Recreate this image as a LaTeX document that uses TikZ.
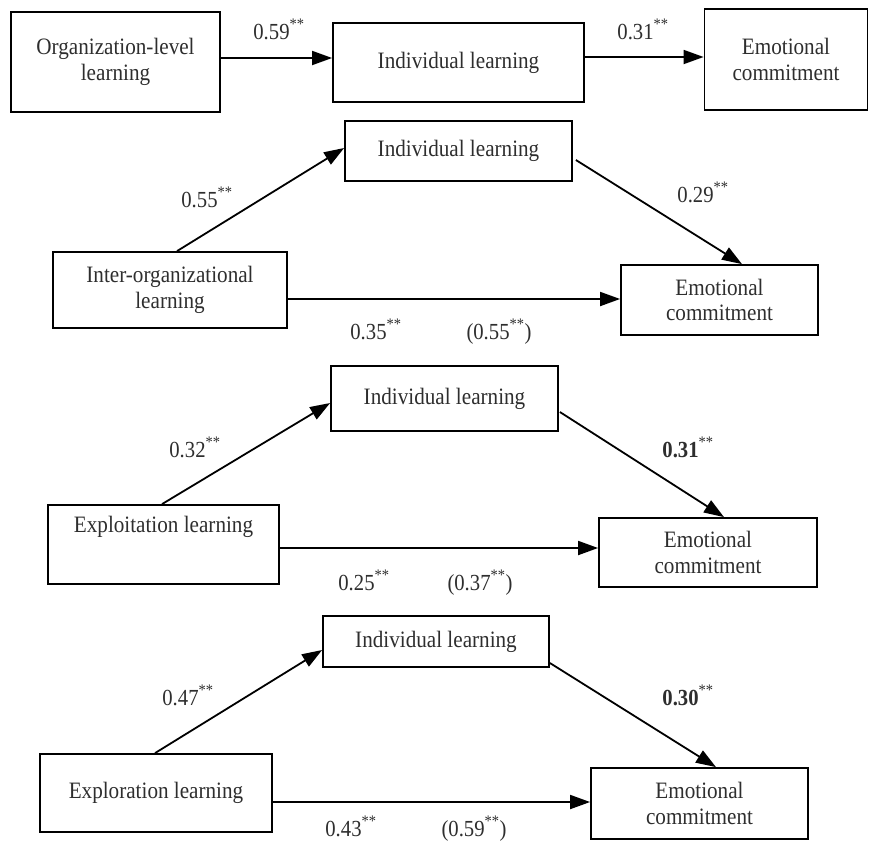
\documentclass[tikz,border=0pt]{standalone}
\usepackage{fontspec}
\setmainfont{Liberation Serif}[FakeStretch=0.9]
\usetikzlibrary{arrows.meta}
\tikzset{
  box/.style={draw=black, line width=1.8pt, inner sep=0pt, align=center,
    font=\fontsize{23.5}{25.5}\selectfont, text=black!82},
  lab/.style={anchor=base, inner sep=0pt, font=\fontsize{23}{25}\selectfont, text=black!82},
  arr/.style={line width=1.8pt, -{Triangle[length=20pt,width=14pt]}},
}
\newcommand{\sig}{\textsuperscript{**}}
\begin{document}
\begin{tikzpicture}[x=1pt,y=-1pt]
\useasboundingbox (0,0) rectangle (869,841);

% ---- Panel 1
\node[box, minimum width=209pt, minimum height=100pt] (org) at (115.5,62) {Organization-level\\learning};
\node[box, minimum width=251pt, minimum height=79pt] (ind1) at (458.5,62.5) {Individual learning};
\node[box, minimum width=163pt, minimum height=101pt] (emo1) at (786,59.5) {Emotional\\commitment};
\draw[arr] ([yshift=4pt]org.east) -- ([yshift=4.5pt]ind1.west);
\draw[arr] ([yshift=5.5pt]ind1.east) -- ([yshift=2.5pt]emo1.west);
\node[lab] (l1a) at (279,39) {0.59\sig};
\node[lab] (l1b) at (643,39) {0.31\sig};

% ---- Panel 2
\node[box, minimum width=227pt, minimum height=60pt] (ind2) at (458.5,151) {Individual learning};
\node[box, minimum width=234pt, minimum height=76pt] (inter) at (170,290) {Inter-organizational\\learning};
\node[box, minimum width=197pt, minimum height=70pt] (emo2) at (719.5,300) {Emotional\\commitment};
\draw[arr] ([xshift=7pt]inter.north) -- ([yshift=3pt]ind2.west);
\draw[arr] ([xshift=3pt,yshift=-9pt]ind2.east) -- ([xshift=22.5pt]emo2.north);
\draw[arr] ([yshift=-9pt]inter.east) -- ([yshift=1pt]emo2.west);
\node[lab] (l2a) at (207,207) {0.55\sig};
\node[lab] (l2b) at (703,202) {0.29\sig};
\node[lab] (l2c) at (376,339) {0.35\sig};
\node[lab] (l2d) at (499,339) {(0.55\sig)};

% ---- Panel 3
\node[box, minimum width=227pt, minimum height=65pt] (ind3) at (444.5,398.5) {Individual learning};
\node[box, minimum width=231pt, minimum height=79pt] (expt) at (163.5,544.5) {Exploitation learning\\[7pt]\strut};
\node[box, minimum width=218pt, minimum height=69pt] (emo3) at (708,552.5) {Emotional\\commitment};
\draw[arr] ([xshift=-1.5pt]expt.north) -- ([yshift=-4.5pt]ind3.west);
\draw[arr] ([xshift=1pt,yshift=-13.5pt]ind3.east) -- ([xshift=16pt]emo3.north);
\draw[arr] ([yshift=-3.5pt]expt.east) -- ([yshift=4.5pt]emo3.west);
\node[lab] (l3a) at (195,457) {0.32\sig};
\node[lab] (l3b) at (688,457) {\textbf{0.31}\sig};
\node[lab] (l3c) at (364,590) {0.25\sig};
\node[lab] (l3d) at (480,590) {(0.37\sig)};

% ---- Panel 4
\node[box, minimum width=226pt, minimum height=51pt] (ind4) at (436,641.5) {Individual learning};
\node[box, minimum width=232pt, minimum height=78pt] (expr) at (156,793) {Exploration learning};
\node[box, minimum width=217pt, minimum height=71pt] (emo4) at (699.5,803.5) {Emotional\\commitment};
\draw[arr] ([xshift=-1pt]expr.north) -- ([yshift=-8.5pt]ind4.west);
\draw[arr] ([yshift=-21.5pt]ind4.east) -- ([xshift=16.5pt]emo4.north);
\draw[arr] ([yshift=-9pt]expr.east) -- ([yshift=1.5pt]emo4.west);
\node[lab] (l4a) at (188,705) {0.47\sig};
\node[lab] (l4b) at (688,705) {\textbf{0.30}\sig};
\node[lab] (l4c) at (351,836) {0.43\sig};
\node[lab] (l4d) at (474,836) {(0.59\sig)};
\end{tikzpicture}
\end{document}
